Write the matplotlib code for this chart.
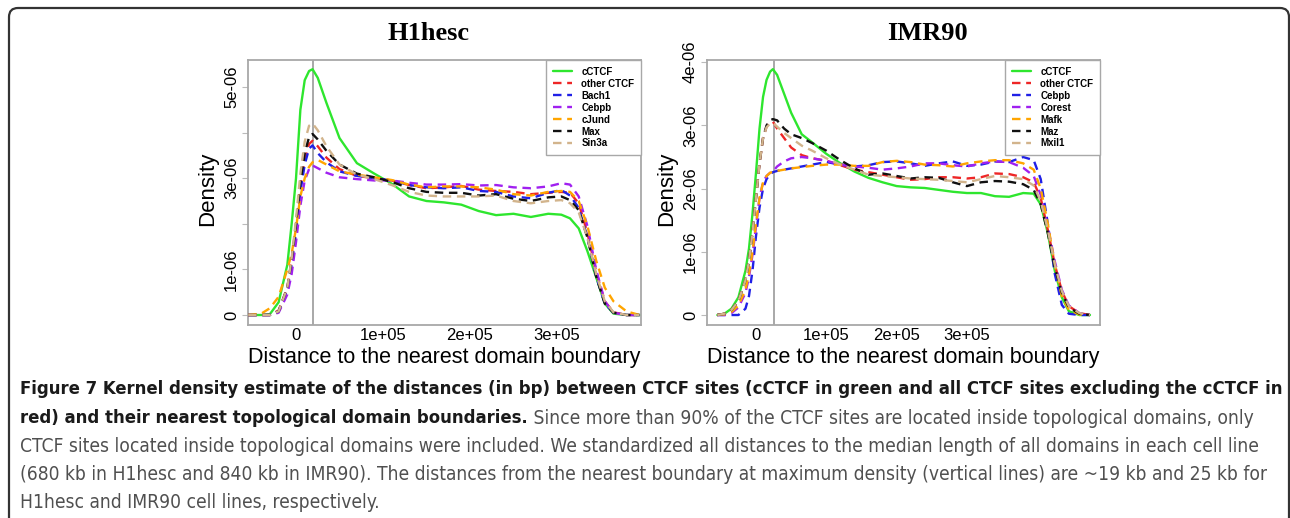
"""
Kernel density of CTCF site distances to nearest domain boundary (H1hesc / IMR90).
"""

import matplotlib
matplotlib.use('Agg')
import matplotlib.pyplot as plt
from matplotlib import font_manager
from matplotlib.font_manager import FontProperties
from matplotlib.patches import FancyBboxPatch
from matplotlib.transforms import IdentityTransform

# ==========================================
# Data (distance in kb, density in 1e-6)
# ==========================================
H1_DIST_KB = [-55, -40, -30, -20, -10, -5, 0, 5, 10, 15, 19, 25, 35, 50, 70, 90, 110, 130,
              150, 170, 190, 210, 230, 250, 270, 290, 305, 315, 325, 335, 345, 355, 365, 380, 395]
H1_LABELS = ['cCTCF', 'other CTCF', 'Bach1', 'Cebpb', 'cJund', 'Max', 'Sin3a']
H1_CCTCF = [0, 0, 0.02, 0.28, 1.1, 2.0, 3.0, 4.5, 5.15, 5.35, 5.39, 5.2, 4.65, 3.88, 3.33, 3.1, 2.88, 2.6,
            2.5, 2.47, 2.42, 2.28, 2.19, 2.22, 2.15, 2.22, 2.2, 2.12, 1.9, 1.4, 0.83, 0.25, 0.03, 0, 0]
H1_OTHER = [0, 0, 0, 0.1, 0.6, 1.2, 1.9, 2.8, 3.4, 3.75, 3.82, 3.7, 3.45, 3.2, 3.05, 3.0, 2.95, 2.85,
            2.78, 2.8, 2.83, 2.75, 2.72, 2.7, 2.65, 2.68, 2.7, 2.68, 2.45, 1.8, 0.95, 0.3, 0.06, 0, 0]
H1_BACH1 = [0, 0, 0, 0.08, 0.55, 1.1, 1.8, 2.7, 3.3, 3.65, 3.72, 3.55, 3.35, 3.15, 3.05, 3.0, 2.95, 2.85,
            2.8, 2.78, 2.8, 2.72, 2.7, 2.6, 2.56, 2.68, 2.74, 2.62, 2.35, 1.7, 0.85, 0.25, 0.05, 0, 0]
H1_CEBPB = [0, 0, 0, 0.05, 0.45, 0.9, 1.6, 2.4, 2.95, 3.2, 3.28, 3.22, 3.12, 3.02, 2.98, 2.95, 2.95, 2.9,
            2.86, 2.86, 2.87, 2.84, 2.85, 2.8, 2.78, 2.82, 2.89, 2.86, 2.6, 1.95, 1.0, 0.3, 0.05, 0, 0]
H1_CJUND = [0, 0.03, 0.15, 0.4, 1.0, 1.35, 1.9, 2.6, 3.0, 3.25, 3.35, 3.4, 3.3, 3.15, 3.08, 3.02, 2.96, 2.86,
            2.8, 2.82, 2.82, 2.8, 2.75, 2.65, 2.62, 2.7, 2.72, 2.7, 2.5, 1.95, 1.2, 0.6, 0.3, 0.08, 0]
H1_MAX = [0, 0, 0, 0.08, 0.6, 1.2, 2.0, 2.9, 3.55, 3.9, 3.97, 3.85, 3.6, 3.3, 3.1, 3.02, 2.92, 2.78,
          2.7, 2.68, 2.68, 2.62, 2.65, 2.55, 2.5, 2.58, 2.6, 2.52, 2.3, 1.7, 0.85, 0.25, 0.05, 0, 0]
H1_SIN3A = [0, 0, 0, 0.08, 0.6, 1.25, 2.1, 3.1, 3.8, 4.15, 4.2, 4.05, 3.7, 3.3, 3.08, 2.98, 2.85, 2.7,
            2.62, 2.6, 2.6, 2.6, 2.62, 2.5, 2.45, 2.5, 2.52, 2.45, 2.25, 1.7, 0.9, 0.3, 0.06, 0, 0]

IMR_DIST_KB = [-55, -45, -35, -25, -15, -10, -5, 0, 5, 10, 15, 20, 24, 30, 40, 50, 65, 80, 100, 120,
               140, 160, 180, 200, 220, 240, 260, 280, 300, 320, 340, 360, 380, 395, 405, 415, 425,
               435, 445, 460, 475]
IMR_LABELS = ['cCTCF', 'other CTCF', 'Cebpb', 'Corest', 'Mafk', 'Maz', 'Mxil1']
IMR_CCTCF = [0, 0.02, 0.1, 0.28, 0.7, 1.05, 1.6, 2.25, 2.95, 3.45, 3.72, 3.85, 3.89, 3.8, 3.5, 3.2, 2.86,
             2.73, 2.55, 2.4, 2.27, 2.17, 2.1, 2.04, 2.02, 2.01, 1.98, 1.95, 1.93, 1.93, 1.88, 1.87, 1.93,
             1.92, 1.75, 1.3, 0.7, 0.28, 0.06, 0, 0]
IMR_OTHER = [0, 0.02, 0.08, 0.22, 0.55, 0.85, 1.3, 1.85, 2.4, 2.8, 2.98, 3.05, 3.06, 2.95, 2.8, 2.65, 2.53,
             2.48, 2.44, 2.37, 2.3, 2.26, 2.22, 2.18, 2.14, 2.15, 2.18, 2.18, 2.16, 2.18, 2.24, 2.23, 2.18,
             2.1, 1.85, 1.35, 0.8, 0.38, 0.14, 0.03, 0]
IMR_CEBPB = [0, 0, 0, 0, 0.1, 0.3, 0.7, 1.25, 1.7, 2.0, 2.15, 2.23, 2.26, 2.28, 2.3, 2.32, 2.35,
             2.38, 2.42, 2.38, 2.35, 2.37, 2.42, 2.43, 2.4, 2.36, 2.4, 2.43, 2.36, 2.38, 2.43, 2.42, 2.5,
             2.45, 2.15, 1.45, 0.65, 0.16, 0.02, 0, 0]
IMR_COREST = [0, 0, 0.03, 0.12, 0.35, 0.6, 0.95, 1.4, 1.85, 2.1, 2.2, 2.25, 2.27, 2.35, 2.43, 2.48, 2.5,
              2.48, 2.44, 2.38, 2.35, 2.33, 2.3, 2.32, 2.35, 2.4, 2.4, 2.37, 2.35, 2.4, 2.43, 2.42, 2.33,
              2.2, 1.9, 1.4, 0.85, 0.4, 0.15, 0.03, 0]
IMR_MAFK = [0, 0.01, 0.05, 0.15, 0.4, 0.65, 1.0, 1.45, 1.85, 2.1, 2.2, 2.25, 2.27, 2.28, 2.3, 2.32, 2.34,
            2.36, 2.38, 2.38, 2.36, 2.36, 2.42, 2.44, 2.42, 2.38, 2.37, 2.35, 2.4, 2.43, 2.45, 2.45, 2.4,
            2.3, 2.0, 1.45, 0.8, 0.3, 0.08, 0.01, 0]
IMR_MAZ = [0, 0.02, 0.08, 0.22, 0.55, 0.85, 1.3, 1.85, 2.4, 2.8, 3.0, 3.08, 3.1, 3.08, 2.95, 2.86, 2.8,
           2.72, 2.6, 2.45, 2.32, 2.22, 2.24, 2.2, 2.16, 2.18, 2.17, 2.1, 2.04, 2.1, 2.12, 2.11, 2.07,
           1.98, 1.75, 1.3, 0.75, 0.35, 0.12, 0.02, 0]
IMR_MXIL1 = [0, 0.02, 0.08, 0.22, 0.55, 0.85, 1.3, 1.85, 2.4, 2.8, 2.97, 3.03, 3.04, 2.98, 2.88, 2.8, 2.68,
             2.6, 2.48, 2.38, 2.3, 2.22, 2.2, 2.18, 2.16, 2.15, 2.14, 2.12, 2.1, 2.15, 2.2, 2.18, 2.15,
             2.05, 1.8, 1.35, 0.8, 0.38, 0.14, 0.03, 0]

PEAK_KB = {'H1hesc': 19, 'IMR90': 25}

COLORS = ['#2ee62e', '#ee2626', '#2020e6', '#a020f0', '#ffa500', '#111111', '#d2b48c']

CAPTION_BOLD_1 = ("Figure 7 Kernel density estimate of the distances (in bp) between CTCF sites "
                  "(cCTCF in green and all CTCF sites excluding the cCTCF in")
CAPTION_BOLD_2 = "red) and their nearest topological domain boundaries."
CAPTION_REG_2 = (" Since more than 90% of the CTCF sites are located inside topological domains, only")
CAPTION_REG_3 = ("CTCF sites located inside topological domains were included. We standardized all "
                 "distances to the median length of all domains in each cell line")
CAPTION_REG_4 = ("(680 kb in H1hesc and 840 kb in IMR90). The distances from the nearest boundary at "
                 "maximum density (vertical lines) are ~19 kb and 25 kb for")
CAPTION_REG_5 = "H1hesc and IMR90 cell lines, respectively."

W, H = 1290, 518
SANS = 'Liberation Sans'


def caption_fonts():
    """Look for a condensed sans face for the caption, else fall back to Liberation Sans."""
    reg, bold = None, None
    for f in font_manager.fontManager.ttflist:
        key = (f.name + ' ' + str(f.stretch) + ' ' + f.fname).lower()
        if not ('condensed' in key or 'narrow' in key) or f.style != 'normal':
            continue
        if 'mono' in key or 'serif' in f.name.lower():
            continue
        w = f.weight if isinstance(f.weight, int) else 400
        if w in (400, 'normal') and reg is None:
            reg = f.fname
        if w == 700 and bold is None:
            bold = f.fname
    if reg and bold:
        return FontProperties(fname=reg), FontProperties(fname=bold)
    return FontProperties(family=SANS), FontProperties(family=SANS, weight='bold')


def px_axes(fig, x0, x1, y0, y1):
    """Axes placed by pixel box (top-left origin)."""
    return fig.add_axes([x0 / W, (H - y1) / H, (x1 - x0) / W, (y1 - y0) / H])


def draw_panel(ax, dist_kb, series, labels, xlim, ylim, yticks, yticklabels, peak_kb):
    x = [d * 1000 for d in dist_kb]
    handles = []
    for i, (vals, lab) in enumerate(zip(series, labels)):
        y = [v * 1e-6 for v in vals]
        if i == 0:
            h, = ax.plot(x, y, color=COLORS[i], lw=1.7, solid_capstyle='round', zorder=2, label=lab)
        else:
            h, = ax.plot(x, y, color=COLORS[i], lw=1.7, linestyle=(0, (3.6, 2.4)), zorder=3, label=lab)
        handles.append(h)
    ax.axvline(peak_kb * 1000, color='#999999', lw=1.2, zorder=1)

    ax.set_xlim(*xlim)
    ax.set_ylim(*ylim)
    ax.set_xticks([0, 1e5, 2e5, 3e5])
    ax.set_xticklabels(['0', '1e+05', '2e+05', '3e+05'], fontsize=12, family=SANS)
    ax.set_yticks(yticks)
    ax.set_yticklabels(yticklabels, fontsize=12, family=SANS, rotation=90, va='center')
    ax.tick_params(axis='x', length=0, pad=2)
    ax.tick_params(axis='y', length=4, width=0.8, color='#bbbbbb', pad=2.5)
    for sp in ax.spines.values():
        sp.set_color('#a8a8a8')
        sp.set_linewidth(1.3)

    ax.text(-0.102, 0.515, 'Density', transform=ax.transAxes, rotation=90, ha='center', va='center',
            fontsize=16, family=SANS)
    ax.text(0.5, -0.121, 'Distance to the nearest domain boundary', transform=ax.transAxes,
            ha='center', va='center', fontsize=15.5, family=SANS)

    leg = ax.legend(handles=handles, loc='upper right', bbox_to_anchor=(1, 1), borderaxespad=0,
                    fancybox=False, framealpha=1, edgecolor='#a8a8a8',
                    prop={'family': SANS, 'weight': 'bold', 'size': 7},
                    handlelength=2.0, handletextpad=0.9, labelspacing=0.2, borderpad=0.7)
    leg.get_frame().set_linewidth(1.0)


def fit_text(fig, renderer, x, y, s, target_w, fp, color):
    t = fig.text(x / W, 1 - y / H, s, ha='left', va='center', fontproperties=fp, color=color)
    t.set_fontsize(12)
    for _ in range(3):
        w = t.get_window_extent(renderer).width
        t.set_fontsize(t.get_fontsize() * target_w / w)
    return t


def main():
    fig = plt.figure(figsize=(W / 100, H / 100), dpi=100)
    fig.patch.set_facecolor('white')

    border = FancyBboxPatch((9, -30), 1280, 540, boxstyle='round,pad=0,rounding_size=9',
                            transform=IdentityTransform(), fill=False, edgecolor='#333333', lw=1.6)
    fig.add_artist(border)

    ax1 = px_axes(fig, 248, 641, 60, 325)
    draw_panel(ax1, H1_DIST_KB,
               [H1_CCTCF, H1_OTHER, H1_BACH1, H1_CEBPB, H1_CJUND, H1_MAX, H1_SIN3A], H1_LABELS,
               (-0.552e5, 3.966e5), (-0.219e-6, 5.592e-6),
               [0, 1e-6, 2e-6, 3e-6, 4e-6, 5e-6], ['0', '1e-06', '', '3e-06', '', '5e-06'],
               PEAK_KB['H1hesc'])

    ax2 = px_axes(fig, 707, 1100, 60, 325)
    draw_panel(ax2, IMR_DIST_KB,
               [IMR_CCTCF, IMR_OTHER, IMR_CEBPB, IMR_COREST, IMR_MAFK, IMR_MAZ, IMR_MXIL1], IMR_LABELS,
               (-0.697e5, 4.893e5), (-0.158e-6, 4.035e-6),
               [0, 1e-6, 2e-6, 3e-6, 4e-6], ['0', '1e-06', '2e-06', '3e-06', '4e-06'],
               PEAK_KB['IMR90'])

    fig.text(428 / W, 1 - 33 / H, 'H1hesc', ha='center', va='center', fontsize=19,
             family='Liberation Serif', weight='bold')
    fig.text(927 / W, 1 - 33 / H, 'IMR90', ha='center', va='center', fontsize=19,
             family='Liberation Serif', weight='bold')

    # Caption
    renderer = fig.canvas.get_renderer()
    reg_fp, bold_fp = caption_fonts()
    x0 = 20
    dark, grey = '#1a1a1a', '#505050'
    t1 = fit_text(fig, renderer, x0, 389, CAPTION_BOLD_1, 1262, bold_fp, dark)
    bold_size = t1.get_fontsize()
    t3 = fit_text(fig, renderer, x0, 446, CAPTION_REG_3, 1240, reg_fp, grey)
    reg_size = t3.get_fontsize()

    tb = fig.text(x0 / W, 1 - 418 / H, CAPTION_BOLD_2, ha='left', va='center',
                  fontproperties=bold_fp, color=dark)
    tb.set_fontsize(bold_size)
    bw = tb.get_window_extent(renderer).x1
    for xx, yy, s in [(bw, 418, CAPTION_REG_2), (x0, 474, CAPTION_REG_4), (x0, 502, CAPTION_REG_5)]:
        t = fig.text(xx / W, 1 - yy / H, s, ha='left', va='center', fontproperties=reg_fp, color=grey)
        t.set_fontsize(reg_size)

    fig.savefig('out.png', dpi=100)
    plt.close(fig)


if __name__ == '__main__':
    main()
